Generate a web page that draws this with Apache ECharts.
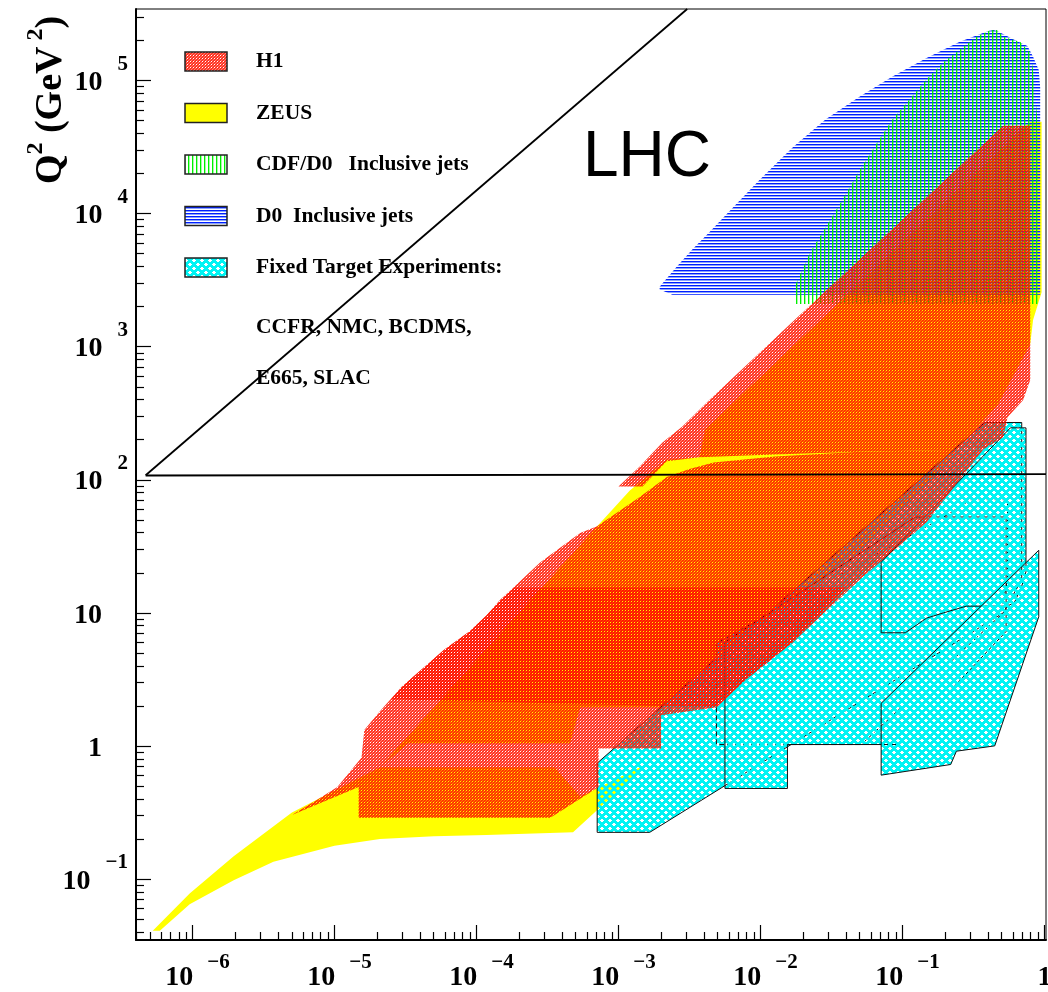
<!DOCTYPE html>
<html><head><meta charset="utf-8">
<script src="https://cdn.jsdelivr.net/npm/echarts@6/dist/echarts.min.js"></script>
<style>html,body{margin:0;padding:0;background:#fff}#c{width:1048px;height:992px}</style>
</head><body><div id="c"></div>
<script>
// ---- axis ranges (log10 units) and tick labels ----
const X_LOG_MIN = -6.398, X_LOG_MAX = 0.011;
const Y_LOG_MIN = -1.459, Y_LOG_MAX = 5.538;
const X_TICK_EXP = [-6, -5, -4, -3, -2, -1, 0];
const Y_TICK_EXP = [-1, 0, 1, 2, 3, 4, 5];

// ---- regions: vertices as [log10(x), log10(Q^2 / GeV^2)] ----
const ZEUS_LOW = [[-6.28,-1.39],[-6.23,-1.39],[-6.02,-1.19],[-5.71,-1.01],[-5.43,-0.87],[-5.00,-0.75],[-4.68,-0.70],[-4.30,-0.68],[-3.93,-0.67],[-3.32,-0.65],[-2.79,-0.13],[-3.27,-0.38],[-3.45,-0.16],[-4.68,-0.16],[-5.30,-0.50],[-5.71,-0.83],[-6.02,-1.11]];
const ZEUS_MAIN = [[-4.68,-0.16],[-3.15,1.65],[-2.92,1.92],[-2.66,2.15],[-2.43,2.17],[-2.39,2.38],[-0.10,4.69],[-0.02,4.69],[-0.02,3.41],[-0.08,3.20],[-0.10,3.02],[-0.33,2.56],[-0.83,1.98],[-1.31,1.47],[-1.76,1.10],[-2.17,0.80],[-2.70,0.29],[-3.27,0.29],[-3.34,0.02],[-4.48,0.02]];
const H1_LOW = [[-5.30,-0.52],[-5.13,-0.41],[-4.98,-0.31],[-4.81,-0.09],[-4.79,0.12],[-4.68,0.26],[-4.53,0.44],[-4.23,0.72],[-4.05,0.86],[-3.93,0.98],[-3.83,1.10],[-3.55,1.38],[-3.27,1.60],[-3.15,1.65],[-2.85,1.87],[-2.66,2.02],[-2.50,2.08],[-2.33,2.13],[-1.90,2.175],[-1.30,2.21],[-0.43,2.23],[-0.83,1.68],[-1.30,1.25],[-1.77,0.78],[-2.10,0.50],[-2.31,0.29],[-2.70,0.23],[-2.70,-0.02],[-3.14,-0.02],[-3.14,-0.31],[-3.48,-0.54],[-4.83,-0.54],[-4.83,-0.31]];
const H1_HIGH = [[-3.00,1.95],[-2.83,1.95],[-2.66,2.14],[-2.43,2.17],[-1.90,2.19],[-1.30,2.21],[-0.43,2.23],[-0.29,2.32],[-0.26,2.47],[-0.15,2.60],[-0.10,2.75],[-0.10,4.66],[-0.29,4.66],[-1.76,3.20],[-2.36,2.60],[-2.55,2.40],[-2.69,2.28],[-2.85,2.10]];
const H1_MID = [[-4.60,0.35],[-4.53,0.44],[-4.23,0.72],[-4.05,0.86],[-3.93,0.98],[-3.83,1.10],[-3.73,1.19],[-1.40,1.19],[-1.77,0.78],[-2.10,0.50],[-2.31,0.29]];
const D0_JETS = [[-2.71,3.43],[-2.71,3.45],[-2.59,3.60],[-2.48,3.73],[-2.36,3.86],[-2.19,4.05],[-2.00,4.26],[-1.77,4.50],[-1.54,4.71],[-1.30,4.88],[-1.07,5.03],[-0.83,5.17],[-0.60,5.29],[-0.40,5.37],[-0.36,5.38],[-0.33,5.37],[-0.22,5.31],[-0.12,5.26],[-0.08,5.18],[-0.04,5.08],[-0.03,4.95],[-0.03,3.39],[-2.62,3.39]];
const CDF_D0_JETS = [[-1.76,3.32],[-1.76,3.45],[-1.65,3.71],[-1.54,3.90],[-1.42,4.11],[-1.30,4.33],[-1.18,4.53],[-1.07,4.71],[-0.95,4.86],[-0.83,5.01],[-0.71,5.14],[-0.60,5.23],[-0.48,5.33],[-0.38,5.38],[-0.33,5.38],[-0.29,5.33],[-0.17,5.29],[-0.10,5.21],[-0.08,5.08],[-0.05,4.71],[-0.04,4.11],[-0.04,3.32]];
const FT_E665 = [[-3.15,-0.13],[-3.15,-0.65],[-2.78,-0.65],[-0.29,1.00],[-0.16,1.25],[-0.16,2.43],[-0.42,2.43]];
const FT_NMC = [[-2.31,0.77],[-2.31,0.01],[-1.29,0.01],[-0.31,0.98],[-0.26,1.25],[-0.26,1.85],[-0.52,1.85],[-0.71,1.72]];
const FT_CCFR = [[-2.25,0.78],[-2.25,-0.32],[-1.81,-0.32],[-1.81,0.01],[-1.02,0.01],[-0.27,0.86],[-0.27,1.72],[-0.91,1.72]];
const FT_BCDMS = [[-1.15,0.85],[-0.98,0.85],[-0.83,0.96],[-0.71,1.00],[-0.55,1.05],[-0.26,1.05],[-0.21,1.08],[-0.16,1.20],[-0.13,1.31],[-0.13,2.39],[-0.24,2.39],[-1.15,1.38]];
const FT_SLAC = [[-1.15,0.32],[-1.15,-0.22],[-0.66,-0.14],[-0.62,-0.04],[-0.35,0.00],[-0.04,0.97],[-0.04,1.47]];
const LHC_DIAGONAL = [[-6.33,2.034],[-2.516,5.538]];
const LHC_Q2_100 = [[-6.33,2.032],[0.011,2.043]];

// ---- patterns ----
function makeTile(w, h, fn) {
  const c = document.createElement('canvas'); c.width = w; c.height = h;
  const ctx = c.getContext('2d');
  for (let y = 0; y < h; y++) for (let x = 0; x < w; x++) {
    const col = fn(x, y); if (col) { ctx.fillStyle = col; ctx.fillRect(x, y, 1, 1); }
  }
  return c;
}
const H1_ALPHA = [[0.86, 0.86, 0.55], [0.86, 0.0, 0.86], [0.55, 0.86, 0.86]];
const h1Fill = { image: makeTile(3, 3, (x, y) => H1_ALPHA[y][x] > 0 ? 'rgba(255,20,0,' + H1_ALPHA[y][x] + ')' : null), repeat: 'repeat' };
const cyanFill = { image: makeTile(8, 8, (x, y) => ((((x + y) % 8) < 4) || (((x - y + 16) % 8) < 4)) ? '#00f4f4' : null), repeat: 'repeat' };
const greenFill = { image: makeTile(4, 1, (x) => x === 0 ? 'rgb(0,240,0)' : (x === 1 ? 'rgba(0,240,0,0.35)' : null)), repeat: 'repeat' };
const blueFill = { image: makeTile(1, 3, (x, y) => y === 0 ? 'rgb(0,30,255)' : (y === 1 ? 'rgba(60,100,255,0.6)' : null)), repeat: 'repeat' };
const zeusFill = '#ffff00';

function polySeries(name, pts, fill, z, stroke, dash) {
  return {
    type: 'custom', name: name, z: z, coordinateSystem: 'cartesian2d',
    xAxisIndex: 0, yAxisIndex: 0, data: pts, silent: true, animation: false,
    encode: { x: 0, y: 1 },
    renderItem: function (params, api) {
      if (params.dataIndex !== 0) return;
      const points = pts.map(p => api.coord(p));
      return {
        type: 'polygon', shape: { points: points },
        style: { fill: fill, stroke: stroke || null, lineWidth: stroke ? 1 : 0, lineDash: dash || null }
      };
    }
  };
}

const SERIF = '"Liberation Serif","DejaVu Serif",serif';
function minorValues(lo, hi) {
  const out = [];
  for (let k = Math.floor(lo) - 1; k <= Math.ceil(hi); k++)
    for (let m = 2; m <= 9; m++) { const v = k + Math.log10(m); if (v > lo && v < hi) out.push(v); }
  return out;
}
const xRich = {
  b: { fontFamily: SERIF, fontWeight: 'bold', fontSize: 28, color: '#000', verticalAlign: 'bottom', lineHeight: 40 },
  bp: { fontFamily: SERIF, fontWeight: 'bold', fontSize: 28, color: '#000', verticalAlign: 'bottom', lineHeight: 40, padding: [0, 0, 0, 10] },
  e: { fontFamily: SERIF, fontWeight: 'bold', fontSize: 21, color: '#000', verticalAlign: 'top', lineHeight: 40, padding: [0, 0, 0, 14] }
};
const yRich = {
  b: { fontFamily: SERIF, fontWeight: 'bold', fontSize: 28, color: '#000', verticalAlign: 'bottom', lineHeight: 43 },
  bn: { fontFamily: SERIF, fontWeight: 'bold', fontSize: 28, color: '#000', verticalAlign: 'bottom', lineHeight: 43, padding: [0, 26, 0, 0] },
  e: { fontFamily: SERIF, fontWeight: 'bold', fontSize: 21, color: '#000', verticalAlign: 'top', lineHeight: 43, padding: [0, 0, 0, 15] }
};
function xFmt(v) { const e = Math.round(v); return e === 0 ? '{b|1}' : '{bp|10}{e|\u2212' + Math.abs(e) + '}'; }
function yFmt(v) {
  const e = Math.round(v);
  if (e === 0) return '{bn|1}';
  if (e === 1) return '{bn|10}';
  return '{b|10}{e|' + (e < 0 ? '\u2212' + Math.abs(e) : e) + '}';
}

const baseAxis = (extra) => Object.assign({
  type: 'value', splitLine: { show: false }, axisLine: { show: false, onZero: false }
}, extra);

const legendItems = [
  { text: 'H1', fill: h1Fill },
  { text: 'ZEUS', fill: zeusFill },
  { text: 'CDF/D0   Inclusive jets', fill: greenFill },
  { text: 'D0  Inclusive jets', fill: blueFill },
  { text: 'Fixed Target Experiments:', fill: cyanFill }
];
const legendExtra = ['CCFR, NMC, BCDMS,', 'E665, SLAC'];
const graphics = [];
legendItems.forEach((it, i) => {
  graphics.push({ type: 'rect', shape: { x: 185, y: 52 + i * 51.5, width: 42, height: 19 }, style: { fill: it.fill, stroke: '#222', lineWidth: 1.5 }, z: 50 });
  graphics.push({ type: 'text', x: 256, y: 61.5 + i * 51.5, style: { text: it.text, fontFamily: SERIF, fontWeight: 'bold', fontSize: 21.5, fill: '#000', align: 'left', verticalAlign: 'middle' }, z: 50 });
});
legendExtra.forEach((t, i) => {
  graphics.push({ type: 'text', x: 256, y: 327 + i * 51.5, style: { text: t, fontFamily: SERIF, fontWeight: 'bold', fontSize: 21.5, fill: '#000', align: 'left', verticalAlign: 'middle' }, z: 50 });
});
graphics.push({ type: 'text', x: 647, y: 158, style: { text: 'LHC', fontFamily: '"Liberation Sans",Arial,sans-serif', fontSize: 64, fill: '#000', align: 'center', verticalAlign: 'middle' }, z: 50 });
graphics.push({
  type: 'text', x: 47, y: 100, rotation: Math.PI / 2, z: 50,
  style: {
    text: '{b|Q}{s|2}{b| (GeV}{s| 2}{b|)}', align: 'center', verticalAlign: 'middle',
    rich: {
      b: { fontFamily: SERIF, fontWeight: 'bold', fontSize: 38, fill: '#000', verticalAlign: 'bottom', lineHeight: 46 },
      s: { fontFamily: SERIF, fontWeight: 'bold', fontSize: 24, fill: '#000', verticalAlign: 'top', lineHeight: 46 }
    }
  }
});

const chart = echarts.init(document.getElementById('c'), null, { renderer: 'canvas', width: 1048, height: 992 });
chart.setOption({
  animation: false,
  backgroundColor: '#fff',
  grid: { left: 136, top: 9, width: 910, height: 931, show: true, borderColor: '#000', borderWidth: 1, backgroundColor: 'transparent', containLabel: false, outerBoundsMode: 'none' },
  xAxis: [
    baseAxis({ min: X_LOG_MIN, max: X_LOG_MAX, position: 'bottom',
      axisLine: { show: true, onZero: false, lineStyle: { color: '#000', width: 2 } },
      axisTick: { show: true, inside: true, length: 15, customValues: X_TICK_EXP, lineStyle: { color: '#000', width: 1.2 } },
      axisLabel: { show: true, customValues: X_TICK_EXP, formatter: xFmt, rich: xRich, margin: 12 } }),
    baseAxis({ min: X_LOG_MIN, max: X_LOG_MAX, position: 'bottom',
      axisTick: { show: true, inside: true, length: 8, customValues: minorValues(X_LOG_MIN, X_LOG_MAX), lineStyle: { color: '#000', width: 1.2 } },
      axisLabel: { show: false } })
  ],
  yAxis: [
    baseAxis({ min: Y_LOG_MIN, max: Y_LOG_MAX, position: 'left',
      axisLine: { show: true, onZero: false, lineStyle: { color: '#000', width: 2 } },
      axisTick: { show: true, inside: true, length: 15, customValues: Y_TICK_EXP, lineStyle: { color: '#000', width: 1.2 } },
      axisLabel: { show: true, customValues: Y_TICK_EXP, formatter: yFmt, rich: yRich, margin: 8, padding: [0, 0, 10, 0] } }),
    baseAxis({ min: Y_LOG_MIN, max: Y_LOG_MAX, position: 'left',
      axisTick: { show: true, inside: true, length: 8, customValues: minorValues(Y_LOG_MIN, Y_LOG_MAX), lineStyle: { color: '#000', width: 1.2 } },
      axisLabel: { show: false } })
  ],
  series: [
    polySeries('ZEUS', ZEUS_LOW, zeusFill, 1),
    polySeries('ZEUS', ZEUS_MAIN, zeusFill, 1),
    polySeries('D0 Inclusive jets', D0_JETS, blueFill, 2),
    polySeries('CDF/D0 Inclusive jets', CDF_D0_JETS, greenFill, 3),
    polySeries('E665', FT_E665, cyanFill, 4, '#111'),
    polySeries('NMC', FT_NMC, cyanFill, 4, '#111', [5, 3]),
    polySeries('CCFR', FT_CCFR, cyanFill, 4, '#111'),
    polySeries('BCDMS', FT_BCDMS, cyanFill, 4, '#111'),
    polySeries('SLAC', FT_SLAC, cyanFill, 4, '#111'),
    polySeries('H1', H1_LOW, h1Fill, 5),
    polySeries('H1', H1_HIGH, h1Fill, 5),
    polySeries('H1', H1_MID, h1Fill, 5),
    { type: 'line', data: LHC_DIAGONAL, symbol: 'none', z: 10, silent: true, lineStyle: { color: '#000', width: 1.8 } },
    { type: 'line', data: LHC_Q2_100, symbol: 'none', z: 10, silent: true, lineStyle: { color: '#000', width: 1.8 } }
  ],
  graphic: graphics
});
</script>
</body></html>
